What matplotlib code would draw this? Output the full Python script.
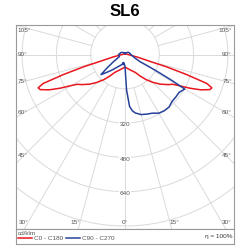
import numpy as np
import matplotlib
matplotlib.use("Agg")
import matplotlib.pyplot as plt

plt.rcParams['font.family'] = ['Liberation Sans', 'DejaVu Sans']

title = "SL6"
unit = "cd/klm"
efficiency = "η = 100%"
series_names = ["C0 - C180", "C90 - C270"]

# C0 - C180 plane, symmetric: angle from nadir (deg) and intensity (cd/klm)
c0_angles = [0, 5, 10, 15, 20, 25, 30, 35, 40, 45, 50, 55, 58, 60, 62.5, 65, 67.5,
             69, 70.5, 72, 73.5, 74.5, 78, 84, 90, 120, 180]
c0_values = [59, 62, 66, 71, 78, 86, 97, 122, 153, 184, 215, 245, 262, 290, 340, 390, 428,
             434, 405, 300, 200, 125, 60, 23, 12, 6, 3]

# C90 - C270 plane: positive angles = C90 side (right), negative = C270 side (left)
c90_angles = [-180, -150, -120, -90, -70, -63, -58, -53, -50, -47, -40, -29, -20, -15,
              -12.5, -9, -6, -3, 0, 2.5, 5, 7.5, 10, 15, 20, 25, 30, 35, 40, 45, 50, 55,
              60, 61, 62, 63, 64.5, 70, 80, 90, 120, 150, 180]
c90_values = [5, 10, 20, 30, 28, 40, 64, 106, 146, 127, 95, 64, 52, 46,
              38, 48, 40, 47, 55, 165, 243, 265, 277, 290, 296, 302, 316, 320, 320, 310, 309, 308,
              322, 250, 184, 130, 77, 50, 35, 28, 20, 10, 5]

radii = [160, 320, 480, 640, 800, 960]
radius_labels = [320, 480, 640]
side_labels = [105, 90, 75, 60, 45]
bottom_labels = [30, 15, 0]

# layout in pixels (250 x 250 figure)
W = H = 250
CX, CY = 125, 54.5
SCALE = 34.3 / 160
L, R, T, B, BOTTOM = 16, 234, 25, 229, 244
grid_c = '#dadada'
frame_c = '#9a9a9a'
text_c = '#555555'
red = '#e8161e'
blue = '#26419b'


def px(x, y):
    return (x - CX) / SCALE, (CY - y) / SCALE


def to_xy(angles, values):
    th = np.radians(angles)
    v = np.asarray(values, dtype=float)
    return v * np.sin(th), -v * np.cos(th)


fig = plt.figure(figsize=(2.5, 2.5), dpi=100)
fig.text(0.5, 1 - 12 / H, title, ha='center', va='center', fontsize=12, fontweight='bold')

ax = fig.add_axes([L / W, 1 - B / H, (R - L) / W, (B - T) / H])
ax.set_xlim(px(L, 0)[0], px(R, 0)[0])
ax.set_ylim(px(0, B)[1], px(0, T)[1])
ax.set_xticks([])
ax.set_yticks([])
for s in ax.spines.values():
    s.set_color(frame_c)
    s.set_linewidth(0.8)

# grid circles and rays
t = np.linspace(0, 2 * np.pi, 500)
for r in radii:
    ax.plot(r * np.sin(t), r * np.cos(t), color=grid_c, lw=0.7, zorder=1)
for a in range(0, 360, 15):
    rad = np.radians(a)
    ax.plot([160 * np.sin(rad), 1200 * np.sin(rad)], [-160 * np.cos(rad), -1200 * np.cos(rad)],
            color=grid_c, lw=0.7, zorder=1)

for r in radius_labels:
    ax.text(0, -r - 8, str(r), ha='center', va='center', fontsize=4.6, color=text_c, zorder=2,
            bbox=dict(facecolor='white', edgecolor='none', pad=0.3))

# angle labels along the sides
for a in side_labels:
    rad = np.radians(a)
    y = CY + 101 * np.cos(rad) / np.sin(rad)
    y = max(y, 30)
    ax.text(*px(17.5, y), f"{a}°", ha='left', va='center', fontsize=4.6, color=text_c)
    ax.text(*px(232, y), f"{a}°", ha='right', va='center', fontsize=4.6, color=text_c)
# angle labels along the bottom
for a in bottom_labels:
    rad = np.radians(a)
    dx = 167.5 * np.tan(rad)
    off = 5 if a else 0
    xl = max(CX - dx - off, 23)
    xr = min(CX + dx + off, 227.5)
    ax.text(*px(xl, 222.5), f"{a}°", ha='center', va='center', fontsize=4.6, color=text_c)
    if a:
        ax.text(*px(xr, 222.5), f"{a}°", ha='center', va='center', fontsize=4.6, color=text_c)

# curves
a0 = np.array(c0_angles)
v0 = np.array(c0_values)
red_x, red_y = to_xy(np.concatenate([-a0[::-1], a0[1:]]), np.concatenate([v0[::-1], v0[1:]]))
ax.plot(red_x, red_y, color=red, lw=1.1, zorder=3)
blue_x, blue_y = to_xy(c90_angles, c90_values)
ax.plot(blue_x, blue_y, color=blue, lw=1.1, zorder=4)

# legend strip
lax = fig.add_axes([L / W, 1 - BOTTOM / H, (R - L) / W, (BOTTOM - B) / H])
lax.set_xlim(L, R)
lax.set_ylim(BOTTOM, B)
lax.set_xticks([])
lax.set_yticks([])
for s in lax.spines.values():
    s.set_color(frame_c)
    s.set_linewidth(0.8)
lax.text(17.5, 233, unit, ha='left', va='center', fontsize=4.6, color=text_c)
lax.plot([17.5, 32], [238, 238], color=red, lw=1.1)
lax.text(33.5, 238.5, series_names[0], ha='left', va='center', fontsize=4.6, color=text_c)
lax.plot([66, 80], [238, 238], color=blue, lw=1.1)
lax.text(81.5, 238.5, series_names[1], ha='left', va='center', fontsize=4.6, color=text_c)
lax.text(232.5, 236, efficiency, ha='right', va='center', fontsize=4.6, color='#333333')

fig.savefig("out.png", dpi=100)
